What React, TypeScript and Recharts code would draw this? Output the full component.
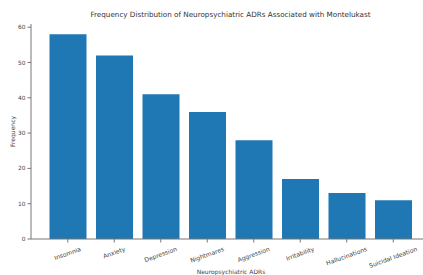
import { Bar, BarChart, Label, XAxis, YAxis } from "recharts";

const categories = [
  "Insomnia",
  "Anxiety",
  "Depression",
  "Nightmares",
  "Aggression",
  "Irritability",
  "Hallucinations",
  "Suicidal Ideation",
];
const counts = [58, 52, 41, 36, 28, 17, 13, 11];
const yTicks = [0, 10, 20, 30, 40, 50, 60];

const data = categories.map((name, i) => ({ name, count: counts[i] }));

const font = "'DejaVu Sans', sans-serif";
const textColor = "#444";
const spine = "#777";
const tickFont = 6.1;

// rough text width so the rotated label's top sits just under the axis, like matplotlib
let ctx: CanvasRenderingContext2D | null = null;
const measure = (s: string) => {
  if (!ctx) ctx = document.createElement("canvas").getContext("2d");
  if (!ctx) return s.length * tickFont * 0.55;
  ctx.font = `${tickFont}px 'DejaVu Sans'`;
  return ctx.measureText(s).width;
};

const rad = (20 * Math.PI) / 180;

const XTick = ({ x, y, payload }: any) => {
  const w = measure(payload.value);
  const h = tickFont * 1.1;
  const boxH = w * Math.sin(rad) + h * Math.cos(rad);
  return (
    <g transform={`translate(${x},${y + 1.5 + boxH / 2}) rotate(-20)`}>
      <text x={0} y={0} textAnchor="middle" dominantBaseline="middle" fontSize={tickFont} fill={textColor} fontFamily={font}>
        {payload.value}
      </text>
    </g>
  );
};

export default function App() {
  return (
    <div style={{ position: "fixed", left: 0, top: 0, width: 423, height: 275, overflow: "hidden", background: "#fff" }}>
      <div
        style={{
          position: "absolute",
          left: 31,
          width: 399,
          top: 10,
          textAlign: "center",
          fontFamily: font,
          fontSize: 7.2,
          color: "#333",
        }}
      >
        Frequency Distribution of Neuropsychiatric ADRs Associated with Montelukast
      </div>
      <BarChart width={440} height={275} data={data} margin={{ top: 24, right: 10, bottom: 0, left: 0 }}>
        <XAxis
          dataKey="name"
          interval={0}
          height={36}
          padding={{ left: 13.5, right: 13.5 }}
          stroke={spine}
          tickSize={3.5}
          tick={<XTick />}
        >
          <Label
            content={({ viewBox }: any) => (
              <text
                x={231}
                y={viewBox.y + 34.5}
                textAnchor="middle"
                fontSize={6}
                fill={textColor}
                fontFamily={font}
              >
                Neuropsychiatric ADRs
              </text>
            )}
          />
        </XAxis>
        <XAxis xAxisId="top" orientation="top" height={0} tick={false} tickLine={false} stroke={spine} />
        <YAxis
          width={31}
          domain={[0, 60.9]}
          ticks={yTicks}
          stroke={spine}
          tickSize={3.5}
          tickMargin={2}
          tick={{ fontSize: 5.8, fill: textColor, fontFamily: font }}
        >
          <Label
            content={({ viewBox }: any) => (
              <text
                transform={`translate(13,${viewBox.y + viewBox.height / 2}) rotate(-90)`}
                textAnchor="middle"
                dominantBaseline="middle"
                fontSize={6}
                fill={textColor}
                fontFamily={font}
              >
                Frequency
              </text>
            )}
          />
        </YAxis>
        <Bar dataKey="count" fill="#1f77b4" barSize={37} isAnimationActive={false} />
      </BarChart>
    </div>
  );
}
